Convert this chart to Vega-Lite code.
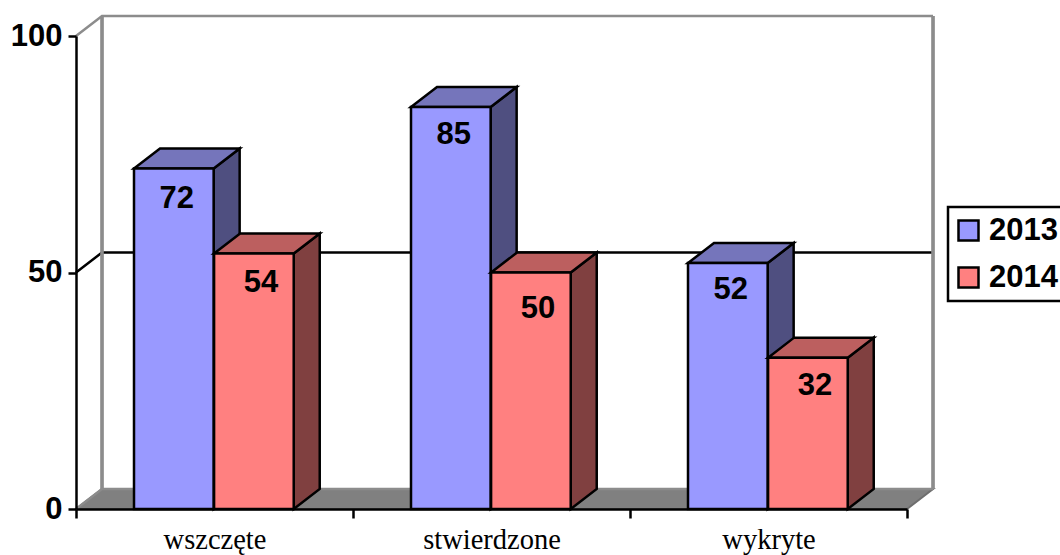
{
"$schema":"https://vega.github.io/schema/vega-lite/v6.json",
"width":831,"height":473,
"autosize":{"type":"none"},
"padding":{"left":76,"top":36,"right":153,"bottom":46},
"background":"white",
"config":{"view":{"stroke":null},"legend":{"strokeWidth":2.5}},
"datasets":{
"bars":[
{"category":"wszczęte","series":"2013","value":72},
{"category":"stwierdzone","series":"2013","value":85},
{"category":"wykryte","series":"2013","value":52},
{"category":"wszczęte","series":"2014","value":54},
{"category":"stwierdzone","series":"2014","value":50},
{"category":"wykryte","series":"2014","value":32}],
"levels":[{"level":0},{"level":50},{"level":100}]
},
"data":{"name":"bars"},
"resolve":{"scale":{"x":"independent"},"axis":{"y":"independent"}},
"layer":[
{"layer":[
 {"data":{"values":[{"t":0},{"t":1}]},
  "transform":[{"calculate":"datum.t*0.0939","as":"fx"},{"calculate":"3+datum.t*0.0939","as":"fx2"},{"calculate":"datum.t*4.23","as":"fy"}],
  "mark":{"type":"area","orient":"horizontal","color":"#808080","stroke":"#6e6e6e","strokeWidth":2},
  "encoding":{
   "x":{"field":"fx","type":"quantitative","axis":null,"stack":null,"scale":{"domain":[0,3],"nice":false,"zero":false}},
   "x2":{"field":"fx2"},
   "y":{"field":"fy","type":"quantitative","axis":null,"scale":{"domain":[0,100],"nice":false,"zero":false}}}},
 {"data":{"name":"levels"},
  "transform":[{"calculate":"[0,1,2]","as":"pt"},{"flatten":["pt"]},
   {"calculate":"datum.pt==0?0:datum.pt==1?0.0939:3.0939","as":"lx"},
   {"calculate":"datum.level+(datum.pt==0?0:4.23)","as":"ly"}],
  "mark":{"type":"line","strokeWidth":2.5},
  "encoding":{
   "x":{"field":"lx","type":"quantitative","axis":null},
   "y":{"field":"ly","type":"quantitative","axis":null},
   "order":{"field":"pt"},
   "detail":{"field":"level"},
   "stroke":{"field":"level","type":"nominal","legend":null,"scale":{"domain":[0,50,100],"range":["#8c8c8c","#000000","#8c8c8c"]}}}},
 {"mark":{"type":"rule","color":"#8c8c8c","strokeWidth":2.5},
  "encoding":{"x":{"datum":0.0939,"type":"quantitative","axis":null},"y":{"datum":4.23,"type":"quantitative","axis":null},"y2":{"datum":104.23}}},
 {"mark":{"type":"rule","color":"#8c8c8c","strokeWidth":2.5},
  "encoding":{"x":{"datum":3.0939,"type":"quantitative","axis":null},"y":{"datum":4.23,"type":"quantitative","axis":null},"y2":{"datum":104.23}}},
 {"transform":[
   {"calculate":"indexof(['wszczęte','stwierdzone','wykryte'],datum.category)+(datum.series=='2013'?0.2094:0.4985)","as":"x0"},
   {"calculate":"datum.x0+0.2875","as":"x1"},
   {"calculate":"datum.x0+0.1437","as":"xc"},
   {"calculate":"[0,1]","as":"t"},{"flatten":["t"]},
   {"calculate":"datum.x1+datum.t*0.0939","as":"sx"},
   {"calculate":"datum.t*4.23","as":"sy0"},
   {"calculate":"datum.value+datum.t*4.23","as":"sy1"},
   {"calculate":"datum.x0+datum.t*0.0939","as":"tx0"},
   {"calculate":"datum.x1+datum.t*0.0939","as":"tx1"}],
  "layer":[
   {"transform":[{"filter":"datum.series=='2013'"}],"mark":{"type":"area","color":"#4f4f80","stroke":"black","strokeWidth":2.5},
    "encoding":{"x":{"field":"sx","type":"quantitative","axis":null},"y":{"field":"sy1","type":"quantitative","axis":null,"stack":null},"y2":{"field":"sy0"},"detail":{"field":"category"}}},
   {"transform":[{"filter":"datum.series=='2013'"}],"mark":{"type":"area","orient":"horizontal","color":"#7575bb","stroke":"black","strokeWidth":2.5},
    "encoding":{"x":{"field":"tx0","type":"quantitative","axis":null,"stack":null},"x2":{"field":"tx1"},"y":{"field":"sy1","type":"quantitative","axis":null},"detail":{"field":"category"}}},
   {"transform":[{"filter":"datum.series=='2013' && datum.t==0"}],"mark":{"type":"rect","stroke":"black","strokeWidth":2.5},
    "encoding":{"x":{"field":"x0","type":"quantitative","axis":null},"x2":{"field":"x1"},"y":{"field":"value","type":"quantitative","axis":null},"y2":{"datum":0},
     "color":{"field":"series","type":"nominal","scale":{"domain":["2013","2014"],"range":["#9999ff","#ff8080"]},
      "legend":{"title":null,"orient":"none","legendX":872,"legendY":171,"symbolType":"square","symbolSize":400,"symbolStrokeColor":"black","symbolStrokeWidth":2.5,"symbolOpacity":1,"symbolOffset":-3,"labelFont":"Liberation Sans","labelFontWeight":"bold","labelFontSize":31,"labelColor":"black","labelOffset":5,"rowPadding":15,"padding":8,"strokeColor":"black"}}}},
   {"transform":[{"filter":"datum.series=='2014'"}],"mark":{"type":"area","color":"#804040","stroke":"black","strokeWidth":2.5},
    "encoding":{"x":{"field":"sx","type":"quantitative","axis":null},"y":{"field":"sy1","type":"quantitative","axis":null,"stack":null},"y2":{"field":"sy0"},"detail":{"field":"category"}}},
   {"transform":[{"filter":"datum.series=='2014'"}],"mark":{"type":"area","orient":"horizontal","color":"#bc5f5f","stroke":"black","strokeWidth":2.5},
    "encoding":{"x":{"field":"tx0","type":"quantitative","axis":null,"stack":null},"x2":{"field":"tx1"},"y":{"field":"sy1","type":"quantitative","axis":null},"detail":{"field":"category"}}},
   {"transform":[{"filter":"datum.series=='2014' && datum.t==0"}],"mark":{"type":"rect","stroke":"black","strokeWidth":2.5},
    "encoding":{"x":{"field":"x0","type":"quantitative","axis":null},"x2":{"field":"x1"},"y":{"field":"value","type":"quantitative","axis":null},"y2":{"datum":0},
     "color":{"field":"series","type":"nominal"}}},
   {"transform":[{"filter":"datum.series=='2013' && datum.t==0"}],"mark":{"type":"text","font":"Liberation Sans","fontWeight":"bold","fontSize":31,"color":"black","dx":3,"dy":{"expr":"datum.value==72?31:datum.value==85?28:27"},"align":"center","baseline":"middle"},
    "encoding":{"x":{"field":"xc","type":"quantitative","axis":null},"y":{"field":"value","type":"quantitative","axis":null},"text":{"field":"value"}}},
   {"transform":[{"filter":"datum.series=='2014' && datum.t==0"}],"mark":{"type":"text","font":"Liberation Sans","fontWeight":"bold","fontSize":31,"color":"black","dx":7,"dy":{"expr":"datum.value==54?29:datum.value==50?36:28"},"align":"center","baseline":"middle"},
    "encoding":{"x":{"field":"xc","type":"quantitative","axis":null},"y":{"field":"value","type":"quantitative","axis":null},"text":{"field":"value"}}}
  ]}
]},
{"mark":{"type":"point","opacity":0},
 "encoding":{
  "x":{"field":"category","type":"nominal","sort":["wszczęte","stwierdzone","wykryte"],"scale":{"type":"band","paddingInner":0,"paddingOuter":0},
   "axis":{"title":null,"tickBand":"extent","labelAngle":0,"labelFont":"Liberation Serif","labelFontSize":28.5,"labelColor":"black","labelPadding":7,"tickColor":"black","tickSize":9,"tickWidth":2.5,"domainColor":"black","domainWidth":2.5,"zindex":1}},
  "y":{"datum":0,"type":"quantitative",
   "axis":{"title":null,"values":[0,50,100],"grid":false,"labelFont":"Liberation Sans","labelFontWeight":"bold","labelFontSize":31,"labelColor":"black","labelPadding":6,"tickColor":"black","tickSize":8,"tickWidth":2.5,"domainColor":"black","domainWidth":2.5,"zindex":1}}
 }}
]
}
